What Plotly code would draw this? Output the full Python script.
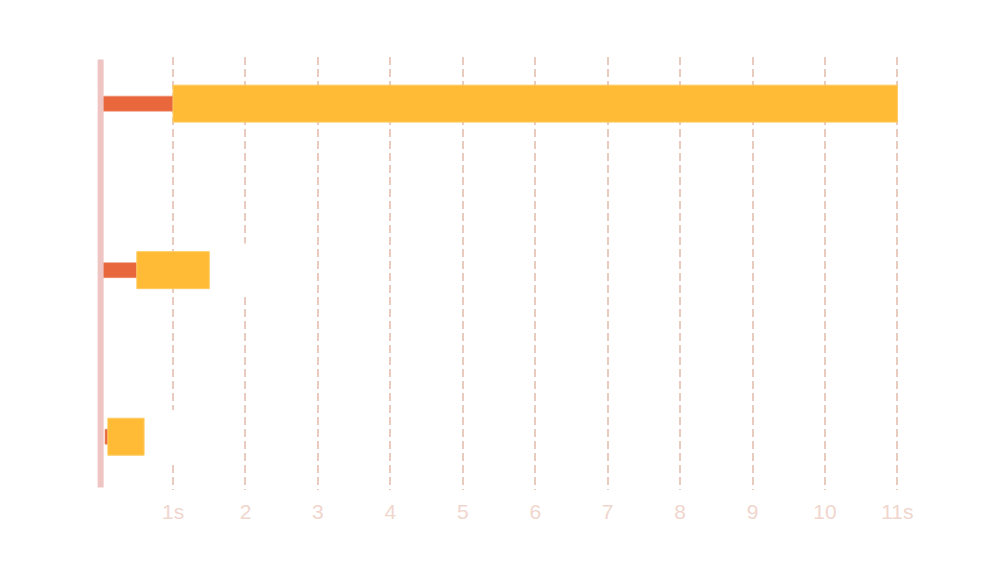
import plotly.graph_objects as go

rows = [0, 1, 2]
wait_start = [0.0, 0.0, 0.06]
load_start = [1.0, 0.5, 0.10]
load_end = [11.0, 1.5, 0.60]
tick_vals = [1, 2, 3, 4, 5, 6, 7, 8, 9, 10, 11]
tick_text = ["1s", "2", "3", "4", "5", "6", "7", "8", "9", "10", "11s"]

RED = "#E8673D"
YELLOW = "#FFBB36"
GRID = "#E9CBC0"
AXIS = "#EFC5C3"
LABEL = "#F0D6CD"

fig = go.Figure()

fig.add_trace(go.Bar(
    y=rows, base=wait_start,
    x=[b - a for a, b in zip(wait_start, load_start)],
    orientation="h", width=0.09,
    marker=dict(color=RED, line=dict(width=1, color="rgba(240,140,110,0.6)")),
    hoverinfo="skip", showlegend=False,
))
fig.add_trace(go.Bar(
    y=rows, base=load_start,
    x=[b - a for a, b in zip(load_start, load_end)],
    orientation="h", width=0.222,
    marker=dict(color=YELLOW, line=dict(width=1, color="#FFCB60")),
    hoverinfo="skip", showlegend=False,
))

shapes = []
# white label backgrounds just right of each bar end (cover gridlines)
for r, e in zip(rows, load_end):
    shapes.append(dict(type="rect", xref="x", yref="y",
                       x0=e + 0.02, x1=e + 0.75, y0=r - 0.16, y1=r + 0.16,
                       fillcolor="white", line=dict(width=0), layer="between"))
# left vertical axis line
shapes.append(dict(type="line", xref="x", yref="paper", x0=0, x1=0,
                   y0=0.006, y1=0.994, line=dict(color=AXIS, width=6),
                   layer="above"))

fig.update_layout(
    width=1000, height=569,
    margin=dict(l=89, r=107, t=49, b=87),
    paper_bgcolor="white", plot_bgcolor="white",
    barmode="overlay",
    shapes=shapes,
    xaxis=dict(range=[-0.05, 11.05], tickvals=tick_vals, ticktext=tick_text,
               showgrid=True, gridcolor=GRID, gridwidth=2, griddash="8px,4px",
               zeroline=False, showline=False, ticks="",
               tickfont=dict(family="Liberation Sans, Arial", size=21, color=LABEL),
               ticklabelstandoff=7),
    yaxis=dict(range=[2.32, -0.28], showgrid=False, zeroline=False,
               showticklabels=False, showline=False, ticks=""),
)

fig.write_html("out.html")
